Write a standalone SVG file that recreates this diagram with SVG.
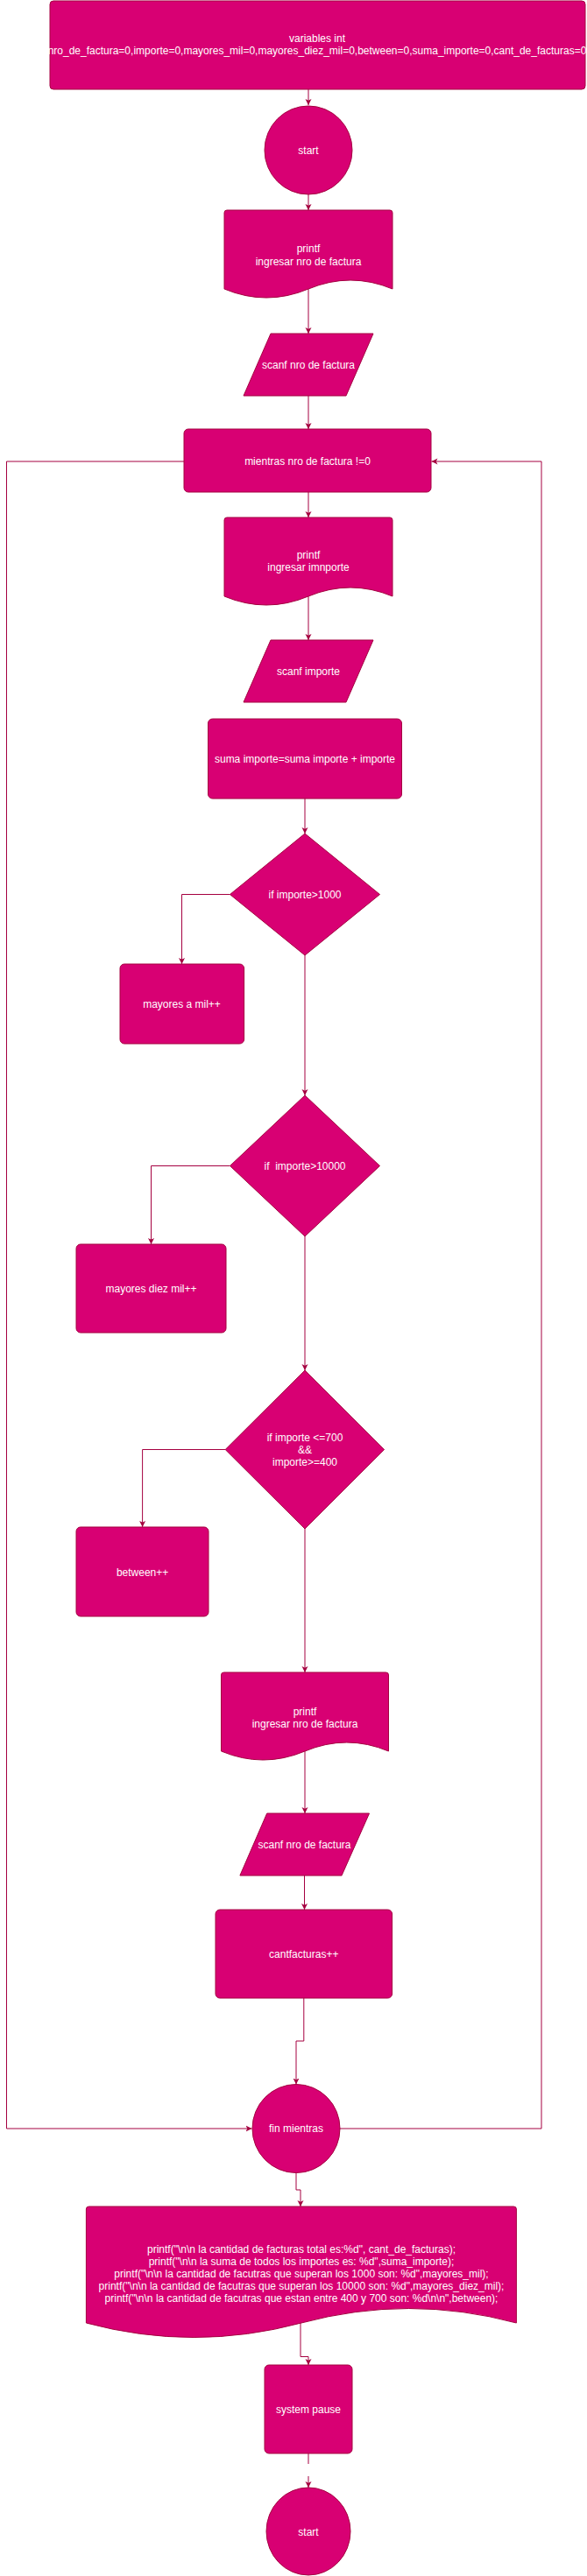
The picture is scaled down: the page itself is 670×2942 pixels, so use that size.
<svg xmlns="http://www.w3.org/2000/svg" width="670" height="2942" viewBox="0 0 670 2942">
<style>
.s{fill:#d80073;stroke:#A50040;stroke-width:1;stroke-linejoin:round}
.t{font-family:"Liberation Sans",Arial,Helvetica,sans-serif;font-size:12px;fill:#ffffff;text-anchor:middle}
.e{fill:none;stroke:#A50040;stroke-width:1}
</style>
<defs>
<marker id="arr" markerWidth="8" markerHeight="8" refX="7" refY="4" orient="auto" markerUnits="userSpaceOnUse">
<path d="M0,0.5 L7,4 L0,7.5 L1.8,4 Z" fill="#A50040"/>
</marker>
</defs>
<rect width="670" height="2942" fill="#ffffff"/>
<g id="connectors">
<path class="e" d="M352,102 V120" marker-end="url(#arr)"/>
<path class="e" d="M352,222 V240" marker-end="url(#arr)"/>
<path class="e" d="M352,330 V381" marker-end="url(#arr)"/>
<path class="e" d="M352,452 V490" marker-end="url(#arr)"/>
<path class="e" d="M352,562 V591" marker-end="url(#arr)"/>
<path class="e" d="M352,681 V731" marker-end="url(#arr)"/>
<path class="e" d="M348,912 V952" marker-end="url(#arr)"/>
<path class="e" d="M262.5,1021.5 H207.5 V1101" marker-end="url(#arr)"/>
<path class="e" d="M348,1091 V1251" marker-end="url(#arr)"/>
<path class="e" d="M262.5,1331.5 H172.5 V1421" marker-end="url(#arr)"/>
<path class="e" d="M348,1412 V1565" marker-end="url(#arr)"/>
<path class="e" d="M257.2,1655.5 H162.6 V1744" marker-end="url(#arr)"/>
<path class="e" d="M348,1746 V1910" marker-end="url(#arr)"/>
<path class="e" d="M348,2000 V2071" marker-end="url(#arr)"/>
<path class="e" d="M347.5,2142 V2181" marker-end="url(#arr)"/>
<path class="e" d="M346.8,2282 V2331 H338 V2380.5" marker-end="url(#arr)"/>
<path class="e" d="M210,527 H7.5 V2431 H287.5" marker-end="url(#arr)"/>
<path class="e" d="M388,2431 H618 V527 H492.5" marker-end="url(#arr)"/>
<path class="e" d="M338,2481.5 V2501 H343 V2520" marker-end="url(#arr)"/>
<path class="e" d="M343,2653 V2691.5 H352 V2701" marker-end="url(#arr)"/>
<path class="e" d="M352,2802 V2814"/>
<path class="e" d="M352,2828 V2841" marker-end="url(#arr)"/>
</g>
<g id="n_vars">
<rect class="s" x="57" y="1" width="611" height="101" rx="4"/>
<text class="t" x="362" y="48">variables int</text>
<text class="t" x="362" y="62">nro_de_factura=0,importe=0,mayores_mil=0,mayores_diez_mil=0,between=0,suma_importe=0,cant_de_facturas=0</text>
</g>
<g id="n_start1">
<ellipse class="s" cx="352" cy="171.5" rx="50" ry="50.5"/>
<text class="t" x="352" y="175.5">start</text>
</g>
<g id="n_printf1">
<path class="s" transform="translate(256,240)" d="M0,3 Q0,0 3,0 H189 Q192,0 192,3 V90 Q144,70 96,90 Q48,110 0,90 Z"/>
<text class="t" x="352" y="288">printf</text>
<text class="t" x="352" y="303">ingresar nro de factura</text>
</g>
<g id="n_scanf1">
<polygon class="s" points="309,381 426,381 395,452 278,452"/>
<text class="t" x="352" y="421">scanf nro de factura</text>
</g>
<g id="n_mientras">
<rect class="s" x="210" y="490" width="282" height="72" rx="5"/>
<text class="t" x="351" y="531">mientras nro de factura !=0</text>
</g>
<g id="n_printf2">
<path class="s" transform="translate(256,591)" d="M0,3 Q0,0 3,0 H189 Q192,0 192,3 V90 Q144,70 96,90 Q48,110 0,90 Z"/>
<text class="t" x="352" y="638">printf</text>
<text class="t" x="352" y="652">ingresar imnporte</text>
</g>
<g id="n_scanf2">
<polygon class="s" points="309,731 426,731 395,802 278,802"/>
<text class="t" x="352" y="771">scanf importe</text>
</g>
<g id="n_suma">
<rect class="s" x="237.5" y="821" width="221" height="91" rx="5"/>
<text class="t" x="348" y="871">suma importe=suma importe + importe</text>
</g>
<g id="n_if1">
<polygon class="s" points="348,952 433.5,1021.5 348,1091 262.5,1021.5"/>
<text class="t" x="348" y="1026">if importe&gt;1000</text>
</g>
<g id="n_mayores_mil">
<rect class="s" x="137" y="1101" width="141.6" height="91" rx="5"/>
<text class="t" x="207.5" y="1151">mayores a mil++</text>
</g>
<g id="n_if2">
<polygon class="s" points="348,1251 433.5,1331.5 348,1412 262.5,1331.5"/>
<text class="t" x="348" y="1336" xml:space="preserve">if  importe&gt;10000</text>
</g>
<g id="n_mayores_diez_mil">
<rect class="s" x="87" y="1421" width="171" height="101" rx="5"/>
<text class="t" x="172.5" y="1476">mayores diez mil++</text>
</g>
<g id="n_if3">
<polygon class="s" points="348,1565 438.6,1655.5 348,1746 257.2,1655.5"/>
<text class="t" x="348" y="1646">if importe &lt;=700</text>
<text class="t" x="348" y="1660">&amp;&amp;</text>
<text class="t" x="348" y="1674">importe&gt;=400</text>
</g>
<g id="n_between">
<rect class="s" x="87" y="1744" width="151" height="102" rx="5"/>
<text class="t" x="162.6" y="1800">between++</text>
</g>
<g id="n_printf3">
<path class="s" transform="translate(252.5,1910)" d="M0,3 Q0,0 3,0 H188 Q191,0 191,3 V90 Q143.25,70 95.5,90 Q47.75,110 0,90 Z"/>
<text class="t" x="348" y="1959">printf</text>
<text class="t" x="348" y="1972.5">ingresar nro de factura</text>
</g>
<g id="n_scanf3">
<polygon class="s" points="304.7,2071 421.5,2071 390,2142 273.9,2142"/>
<text class="t" x="347.5" y="2111">scanf nro de factura</text>
</g>
<g id="n_cantfacturas">
<rect class="s" x="246" y="2181" width="201.6" height="101" rx="5"/>
<text class="t" x="346.8" y="2236">cantfacturas++</text>
</g>
<g id="n_fin_mientras">
<ellipse class="s" cx="338" cy="2431" rx="50" ry="50.5"/>
<text class="t" x="338" y="2435">fin mientras</text>
</g>
<g id="n_printf_final">
<path class="s" transform="translate(98.4,2520)" d="M0,3 Q0,0 3,0 H488 Q491,0 491,3 V133 Q368.25,100 245.5,133 Q122.75,166 0,133 Z"/>
<text class="t" x="344" y="2572.5">printf("\n\n la cantidad de facturas total es:%d", cant_de_facturas);</text>
<text class="t" x="344" y="2586.5">printf("\n\n la suma de todos los importes es: %d",suma_importe);</text>
<text class="t" x="344" y="2600.5">printf("\n\n la cantidad de facutras que superan los 1000 son: %d",mayores_mil);</text>
<text class="t" x="344" y="2614.5">printf("\n\n la cantidad de facutras que superan los 10000 son: %d",mayores_diez_mil);</text>
<text class="t" x="344" y="2628.5">printf("\n\n la cantidad de facutras que estan entre 400 y 700 son: %d\n\n",between);</text>
</g>
<g id="n_system_pause">
<rect class="s" x="302" y="2701" width="100" height="101" rx="5"/>
<text class="t" x="352" y="2756">system pause</text>
</g>
<g id="n_start2">
<ellipse class="s" cx="352" cy="2891" rx="48" ry="50"/>
<text class="t" x="352" y="2896">start</text>
</g>
</svg>
